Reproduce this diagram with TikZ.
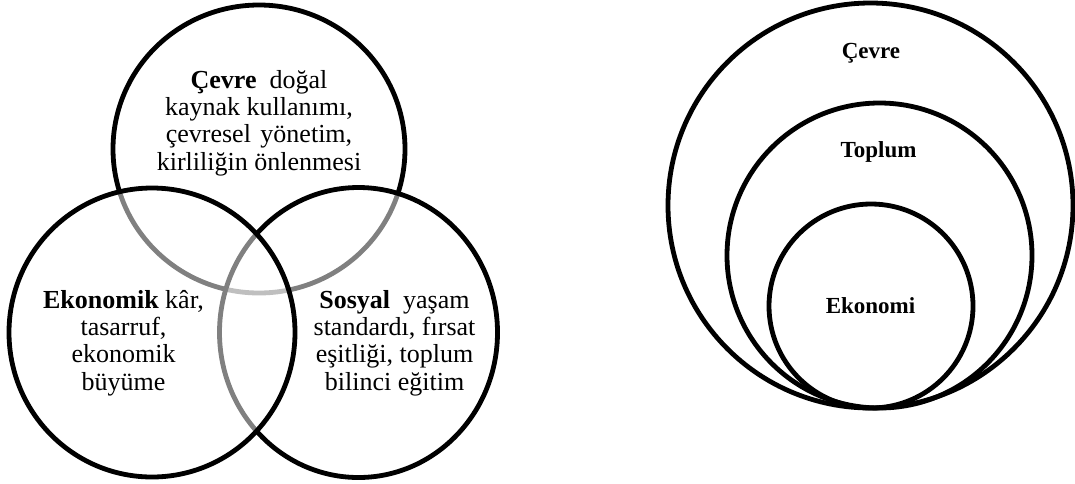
\documentclass[tikz,border=0pt]{standalone}
\usepackage{fontspec}
\setmainfont{Liberation Serif}
\begin{document}
\begin{tikzpicture}[x=1pt,y=-1pt,
  ring/.style={line width=4.8pt},
  veil/.style={ring, fill=white, fill opacity=0.5},
  body/.style={font=\fontsize{26}{27.3}\selectfont, align=center, anchor=base, inner sep=0pt},
  tag/.style={font=\fontsize{23}{27}\selectfont\bfseries, anchor=base, inner sep=0pt}]
\useasboundingbox (0,0) rectangle (1075,483);

% three overlapping fields of sustainability
\coordinate (cTop) at (259,149);
\coordinate (cEko) at (152,332.5);
\coordinate (cSos) at (358.5,332.5);
\draw[ring] (cTop) ellipse [x radius=146pt, y radius=144pt];
\draw[veil] (cSos) ellipse [x radius=139pt, y radius=145pt];
\draw[veil] (cEko) ellipse [x radius=143pt, y radius=144.5pt];

% the base anchor of a multi-line node sits on its last line
\node[body] (cevreText) at (259,170)
  {\textbf{Çevre}\ \ doğal\\kaynak kullanımı,\\çevresel\hspace{3pt} yönetim,\\kirliliğin önlenmesi};
\node[body] (ekoText) at (123.5,390)
  {\textbf{Ekonomik} kâr,\\tasarruf,\\ekonomik\\büyüme};
\node[body] (sosText) at (394.5,390)
  {\textbf{Sosyal}\ \ yaşam\\standardı, fırsat\\eşitliği, toplum\\bilinci eğitim};

% nested model
\coordinate (cOut) at (870.5,205.5);
\coordinate (cMid) at (879.5,255.5);
\coordinate (cIn) at (871,306);
\draw[ring] (cOut) circle [radius=202.5pt];
\draw[ring] (cMid) circle [radius=152.5pt];
\draw[ring] (cIn) circle [radius=102pt];

\node[tag] (cevreLbl) at (871,58) {Çevre};
\node[tag] (toplumLbl) at (878.5,157) {Toplum};
\node[tag] (ekoLbl) at (870.5,313) {Ekonomi};
\end{tikzpicture}
\end{document}
